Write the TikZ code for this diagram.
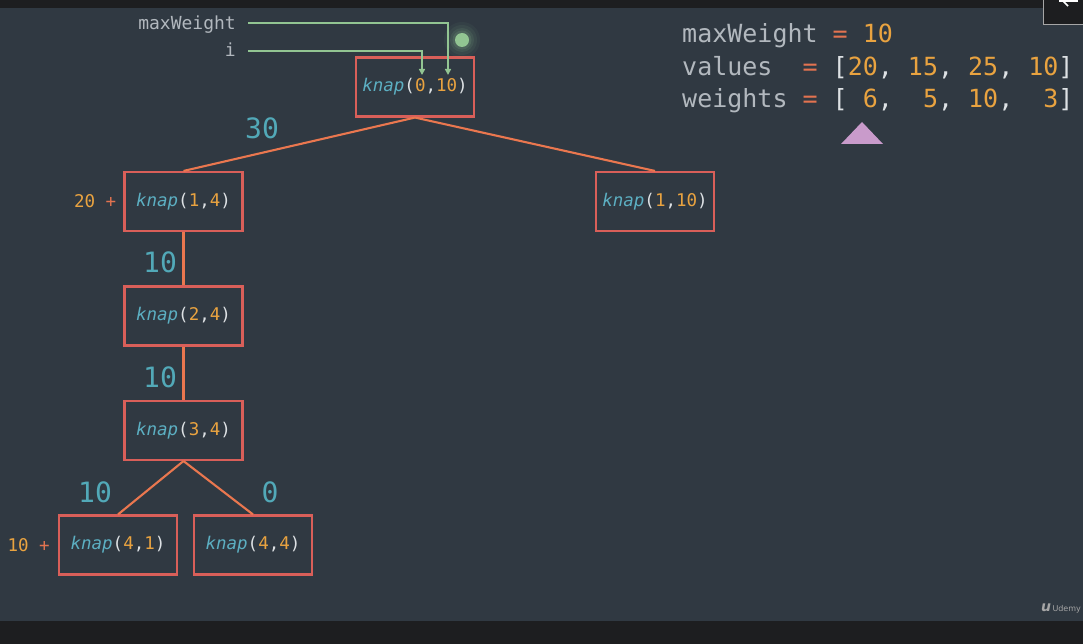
\documentclass[tikz,border=0pt]{standalone}
\usepackage{fontspec}
\setmonofont{DejaVu Sans Mono}
\setsansfont{DejaVu Sans}
\usetikzlibrary{arrows.meta,positioning}
\definecolor{bgslate}{HTML}{303942}
\definecolor{barblack}{HTML}{1D1E20}
\definecolor{boxred}{HTML}{D95F59}
\definecolor{edgeorange}{HTML}{EA774F}
\definecolor{numorange}{HTML}{E9A340}
\definecolor{fnteal}{HTML}{5CAFC2}
\definecolor{cntteal}{HTML}{52A9B8}
\definecolor{txtgray}{HTML}{B2B8BE}
\definecolor{brwhite}{HTML}{DDE1E4}
\definecolor{eqred}{HTML}{E27350}
\definecolor{ptrgreen}{HTML}{92C592}
\definecolor{markpink}{HTML}{C99BCB}
% call text inside the boxes
\newcommand{\kcall}[2]{{\color{fnteal}\itshape knap}{\color{brwhite}(}{\color{numorange}#1}{\color{brwhite},}{\color{numorange}#2}{\color{brwhite})}}
\newcommand{\vnum}[1]{{\color{numorange}#1}}
\newcommand{\vpun}[1]{{\color{brwhite}#1}}
\tikzset{
  knapbox/.style={draw=boxred, line width=2.1pt, minimum width=118pt, minimum height=59pt,
    inner sep=0pt, font=\ttfamily\fontsize{17.5}{20}\selectfont},
  branch/.style={draw=edgeorange, line width=2.1pt},
  cntlabel/.style={text=cntteal, inner sep=0pt, font=\ttfamily\fontsize{28}{32}\selectfont},
  addlabel/.style={inner sep=0pt, font=\ttfamily\fontsize{17.5}{20}\selectfont},
  codeline/.style={anchor=base west, inner sep=0pt, text=txtgray, font=\ttfamily\fontsize{25}{30}\selectfont},
  arglabel/.style={anchor=base east, inner sep=0pt, text=txtgray, font=\ttfamily\fontsize{18}{22}\selectfont},
  pointer/.style={draw=ptrgreen, line width=1.5pt, -{Triangle[width=6pt,length=6pt]}}
}
\begin{document}
\begin{tikzpicture}[x=1pt,y=-1pt]
  \useasboundingbox (0,0) rectangle (1083,644);
  \clip (0,0) rectangle (1083,644);
  % background and window bars
  \fill[bgslate] (0,0) rectangle (1083,644);
  \fill[barblack] (0,0) rectangle (1083,8);
  \fill[barblack] (0,621) rectangle (1083,644);
  \filldraw[fill=barblack, draw=gray!70, line width=0.8pt] (1043,-2) rectangle (1086,24);
  \draw[white, line width=1.6pt] (1061,-1) -- (1068,6);
  \draw[white, line width=1.6pt] (1059,1) -- (1078,1);
  \node[anchor=west, inner sep=0pt, text=gray!70, font=\sffamily\fontsize{8}{9}\selectfont] (udemy) at (1041,608) {{\bfseries\itshape\fontsize{14}{14}\selectfont u}\,Udemy};

  % the recursion tree
  \node[knapbox] (n010) at (415,87) {\kcall{0}{10}};
  \node[knapbox] (n14)  at (183.5,201.5) {\kcall{1}{4}};
  \node[knapbox] (n110) at (655,201.5) {\kcall{1}{10}};
  \node[knapbox] (n24)  at (183.5,316) {\kcall{2}{4}};
  \node[knapbox] (n34)  at (183.5,430.5) {\kcall{3}{4}};
  \node[knapbox] (n41)  at (118,545) {\kcall{4}{1}};
  \node[knapbox] (n44)  at (253,545) {\kcall{4}{4}};
  \draw[branch] (n010.south) -- (n14.north);
  \draw[branch] (n010.south) -- (n110.north);
  \draw[branch] (n14.south) -- (n24.north);
  \draw[branch] (n24.south) -- (n34.north);
  \draw[branch] (n34.south) -- (n41.north);
  \draw[branch] (n34.south) -- (n44.north);

  % returned values
  \node[cntlabel] (c30) at (262,128) {30};
  \node[cntlabel] (c10a) at (160,262) {10};
  \node[cntlabel] (c10b) at (160,377) {10};
  \node[cntlabel] (c10c) at (95,492) {10};
  \node[cntlabel] (c0) at (270,492) {0};
  \node[addlabel, left=7pt of n14] (add20) {\vnum{20}~{\color{eqred}+}};
  \node[addlabel, left=8pt of n41] (add10) {\vnum{10}~{\color{eqred}+}};

  % argument names
  \node[arglabel] (lblw) at (236,30) {maxWeight};
  \node[arglabel] (lbli) at (236,57) {i};
  \coordinate (argw) at (448,75);
  \coordinate (argi) at (422,75);
  \draw[pointer] (248,23) -| (argw);
  \draw[pointer] (248,51) -| (argi);
  \foreach \r/\o in {18/0.05,15/0.07,12/0.1,9.5/0.14}
    \fill[ptrgreen, opacity=\o] (462,40) circle (\r);
  \fill[ptrgreen] (462,40) circle (7);

  % the inputs
  \node[codeline] (inw) at (682,43) {maxWeight {\color{eqred}=} \vnum{10}};
  \node[codeline] (inv) at (682,75.5) {values~~{\color{eqred}=} \vpun{[}\vnum{20}\vpun{,} \vnum{15}\vpun{,} \vnum{25}\vpun{,} \vnum{10}\vpun{]}};
  \node[codeline] (inwt) at (682,108) {weights {\color{eqred}=} \vpun{[}~\vnum{6}\vpun{,}~~\vnum{5}\vpun{,} \vnum{10}\vpun{,}~~\vnum{3}\vpun{]}};
  \fill[markpink] (862,122) -- (883,144) -- (841,144) -- cycle;
\end{tikzpicture}
\end{document}
